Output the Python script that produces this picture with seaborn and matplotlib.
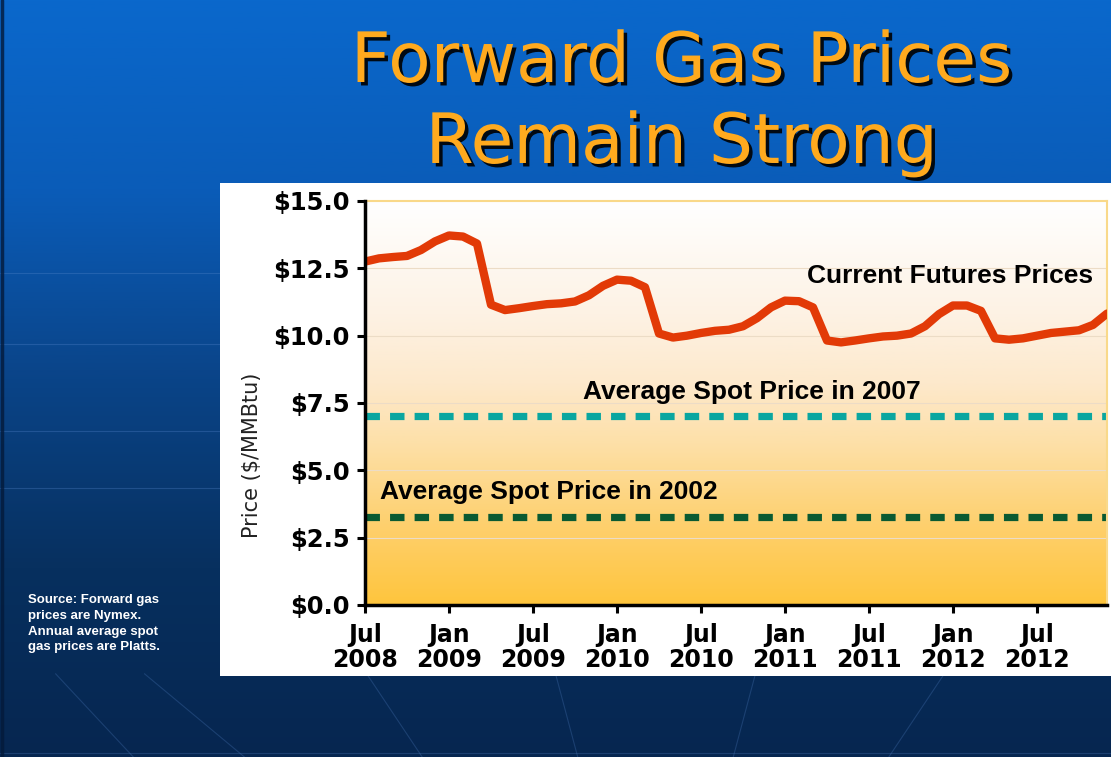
import numpy as np
import pandas as pd
import matplotlib
matplotlib.use("Agg")
import matplotlib.pyplot as plt
import matplotlib.patheffects as pe
from matplotlib.colors import LinearSegmentedColormap
from matplotlib.patches import Rectangle
import seaborn as sns

# ---------------- data ----------------
months = ["Jul 2008", "Aug 2008", "Sep 2008", "Oct 2008", "Nov 2008", "Dec 2008",
          "Jan 2009", "Feb 2009", "Mar 2009", "Apr 2009", "May 2009", "Jun 2009",
          "Jul 2009", "Aug 2009", "Sep 2009", "Oct 2009", "Nov 2009", "Dec 2009",
          "Jan 2010", "Feb 2010", "Mar 2010", "Apr 2010", "May 2010", "Jun 2010",
          "Jul 2010", "Aug 2010", "Sep 2010", "Oct 2010", "Nov 2010", "Dec 2010",
          "Jan 2011", "Feb 2011", "Mar 2011", "Apr 2011", "May 2011", "Jun 2011",
          "Jul 2011", "Aug 2011", "Sep 2011", "Oct 2011", "Nov 2011", "Dec 2011",
          "Jan 2012", "Feb 2012", "Mar 2012", "Apr 2012", "May 2012", "Jun 2012",
          "Jul 2012", "Aug 2012", "Sep 2012", "Oct 2012", "Nov 2012", "Dec 2012"]
futures = [12.75, 12.87, 12.92, 12.96, 13.18, 13.50,
           13.72, 13.68, 13.42, 11.15, 10.95, 11.02,
           11.10, 11.17, 11.20, 11.27, 11.50, 11.85,
           12.08, 12.04, 11.80, 10.08, 9.93, 10.00,
           10.10, 10.18, 10.22, 10.35, 10.65, 11.05,
           11.30, 11.28, 11.05, 9.82, 9.75, 9.82,
           9.90, 9.97, 10.00, 10.08, 10.35, 10.80,
           11.12, 11.12, 10.92, 9.90, 9.85, 9.90,
           10.00, 10.10, 10.15, 10.20, 10.40, 10.82]
avg_2007 = 7.0
avg_2002 = 3.25
y_ticks = [0.0, 2.5, 5.0, 7.5, 10.0, 12.5, 15.0]
y_tick_labels = ["$0.0", "$2.5", "$5.0", "$7.5", "$10.0", "$12.5", "$15.0"]
x_tick_labels = ["Jul\n2008", "Jan\n2009", "Jul\n2009", "Jan\n2010", "Jul\n2010",
                 "Jan\n2011", "Jul\n2011", "Jan\n2012", "Jul\n2012"]
title_lines = ["Forward Gas Prices", "Remain Strong"]
source_note = "Source: Forward gas\nprices are Nymex.\nAnnual average spot\ngas prices are Platts."

df = pd.DataFrame({"month": np.arange(len(months)), "label": months, "price": futures})

# ---------------- figure ----------------
sns.set_theme(style="white")
W, H = 1111, 757
fig = plt.figure(figsize=(W / 100, H / 100), dpi=100)

# slide background gradient
bg = fig.add_axes([0, 0, 1, 1], zorder=-10)
bg_cmap = LinearSegmentedColormap.from_list(
    "slide", ["#0a68cc", "#0a5cb8", "#0a4488", "#07305f", "#062650"])
grad = np.linspace(0, 1, 256).reshape(-1, 1)
bg.imshow(grad, cmap=bg_cmap, aspect="auto", extent=[0, 1, 0, 1], origin="upper")
# faint globe lines
for yy in [0.64, 0.545, 0.43, 0.355]:
    bg.plot([0.0, 0.2], [yy, yy], color="#5a8ad0", lw=0.8, alpha=0.3)
th = np.linspace(0, 1, 100)
for x0, x1 in [(0.05, 0.12), (0.13, 0.22), (0.33, 0.38), (0.5, 0.52), (0.68, 0.66), (0.85, 0.80)]:
    bg.plot(x0 + (x1 - x0) * th, 0.11 - 0.11 * th, color="#5a8ad0", lw=0.8, alpha=0.25)
bg.plot([0, 1], [0.005, 0.005], color="#5a8ad0", lw=0.8, alpha=0.25)
bg.plot([0.002, 0.002], [0, 1], color="#041a3a", lw=2.5, alpha=0.8)
bg.set_xlim(0, 1)
bg.set_ylim(0, 1)
bg.axis("off")

# white chart panel
fig.patches.append(Rectangle((220 / W, 1 - 676 / H), (W - 220) / W, (676 - 183) / H,
                             transform=fig.transFigure, facecolor="white",
                             edgecolor="none", zorder=-5))

# title
for txt, yb in zip(title_lines, [82, 163]):
    fig.text(682 / W, 1 - yb / H, txt, ha="center", va="baseline",
             fontsize=50, color="#ffaa1e", family="DejaVu Sans",
             path_effects=[pe.withSimplePatchShadow(offset=(2.5, -2.5), shadow_rgbFace="black", alpha=0.9)])

# source note
fig.text(28 / W, 1 - 594 / H, source_note, ha="left", va="top", fontsize=9.5,
         fontweight="bold", color="white", family="Liberation Sans", linespacing=1.42)

# main axes
ax_left, ax_right, ax_top, ax_bot = 365, 1107, 201, 605
ax = fig.add_axes([ax_left / W, 1 - ax_bot / H, (ax_right - ax_left) / W, (ax_bot - ax_top) / H])
ax.set_facecolor("white")

# plot-area gradient
pa_cmap = LinearSegmentedColormap.from_list(
    "plotarea", [(0.0, "#ffc53d"), (0.2, "#fed06e"), (0.4, "#fde0a8"),
                 (0.55, "#fde9cc"), (0.72, "#fdf2e4"), (1.0, "#ffffff")])
pg = np.linspace(0, 1, 256).reshape(-1, 1)
ax.imshow(pg, cmap=pa_cmap, aspect="auto", extent=[0, len(months) - 1, 0, 15],
          origin="lower", zorder=0)

for yv in y_ticks[1:-1]:
    ax.axhline(yv, color="#ecdcc6", lw=0.8, zorder=1)

ax.axhline(avg_2007, color="#0aa6a0", lw=5.2, dashes=(2.0, 1.4), solid_capstyle="butt",
           dash_capstyle="butt", zorder=2)
ax.axhline(avg_2002, color="#0a5a32", lw=5.2, dashes=(2.0, 1.4), solid_capstyle="butt",
           dash_capstyle="butt", zorder=2)

sns.lineplot(data=df, x="month", y="price", ax=ax, color="#e23a07", lw=6,
             solid_joinstyle="round", solid_capstyle="round", zorder=3, legend=False)

ax.set_xlim(0, len(months) - 1)
ax.set_ylim(0, 15)
ax.set_xticks(np.arange(0, len(months), 6))
ax.set_xticklabels(x_tick_labels, fontsize=17, fontweight="bold",
                   family="DejaVu Sans", linespacing=1.05)
ax.set_yticks(y_ticks)
ax.set_yticklabels(y_tick_labels, fontsize=17.5, fontweight="bold", family="DejaVu Sans")
ax.tick_params(axis="both", direction="out", length=6, width=2.2, color="black",
               labelcolor="black")
ax.tick_params(axis="x", pad=7, bottom=True)
ax.tick_params(axis="y", pad=5, left=True)
ax.set_xlabel("")
ax.set_ylabel("")
ax.grid(False)

for s in ["left", "bottom"]:
    ax.spines[s].set_color("black")
    ax.spines[s].set_linewidth(2.5)
    ax.spines[s].set_zorder(5)
for s in ["top", "right"]:
    ax.spines[s].set_color("#f9d98a")
    ax.spines[s].set_linewidth(1.5)

# annotations
ax.text(52.0, 12.22, "Current Futures Prices", ha="right", va="center",
        fontsize=19, fontweight="bold", family="Liberation Sans", color="black", zorder=4)
ax.text(15.6, 7.91, "Average Spot Price in 2007", ha="left", va="center",
        fontsize=19, fontweight="bold", family="Liberation Sans", color="black", zorder=4)
ax.text(1.07, 4.20, "Average Spot Price in 2002", ha="left", va="center",
        fontsize=19, fontweight="bold", family="Liberation Sans", color="black", zorder=4)

# y label
fig.text(252 / W, 1 - 455 / H, "Price ($/MMBtu)", rotation=90, ha="center", va="center",
         fontsize=15, family="DejaVu Sans", color="#222222")

fig.savefig("out.png", dpi=100)
